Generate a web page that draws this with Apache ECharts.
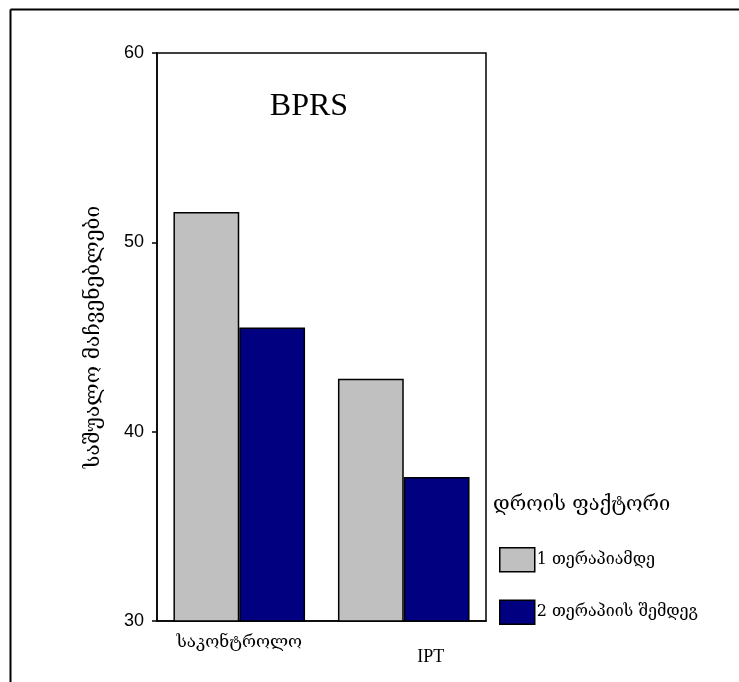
<!DOCTYPE html>
<html>
<head>
<meta charset="utf-8">
<script src="https://cdn.jsdelivr.net/npm/echarts@6/dist/echarts.min.js"></script>
<style>html,body{margin:0;padding:0;background:#fff}#c{width:739px;height:682px}</style>
</head>
<body>
<div id="c"></div>
<script>
var categories = ['საკონტროლო', 'IPT'];
var seriesNames = ['1 თერაპიამდე', '2 თერაპიის შემდეგ'];
var beforeValues = [51.6, 42.8];
var afterValues = [45.5, 37.6];
var yTicks = [30, 40, 50, 60];

var geoFont = '"DejaVu Serif", "DejaVu Sans", serif';
var chart = echarts.init(document.getElementById('c'));
chart.setOption({
  animation: false,
  backgroundColor: '#fff',
  title: [
    {text: 'BPRS', left: 304, top: 86, textAlign: 'center',
     textStyle: {fontFamily: '"Liberation Serif", serif', fontSize: 32, fontWeight: 'normal', color: '#000'}},
    {text: 'დროის ფაქტორი', left: 488, top: 490,
     textStyle: {fontFamily: geoFont, fontSize: 20, fontWeight: 'normal', color: '#000'}}
  ],
  legend: {
    orient: 'vertical', left: 494, top: 542,
    itemWidth: 35, itemHeight: 24, itemGap: 27, icon: 'rect',
    data: seriesNames,
    textStyle: {fontFamily: geoFont, fontSize: 16, color: '#000', padding: [0,0,0,-3]},
    itemStyle: {borderColor: '#000', borderWidth: 1.5}
  },
  grid: {left: 157, right: 253, top: 53, bottom: 61, show: true, borderColor: '#000', borderWidth: 1.5, backgroundColor: 'transparent'},
  xAxis: {
    type: 'category',
    data: [
      {value: categories[0]},
      {value: categories[1], textStyle: {fontFamily: '"Liberation Serif", serif', fontSize: 18, padding: [14, 0, 0, 54]}}
    ],
    axisLine: {lineStyle: {color: '#000', width: 1.5}},
    axisTick: {alignWithLabel: true, length: 6, lineStyle: {color: '#000', width: 1.5}},
    axisLabel: {color: '#000', fontFamily: geoFont, fontSize: 17, margin: 13}
  },
  yAxis: {
    type: 'value', min: 30, max: 60, interval: 10,
    name: 'საშუალო მაჩვენებლები', nameLocation: 'middle', nameRotate: 90, nameGap: 53,
    nameTextStyle: {fontFamily: geoFont, fontSize: 21, color: '#000'},
    axisLine: {show: true, lineStyle: {color: '#000', width: 1.5}},
    axisTick: {show: true, length: 5, lineStyle: {color: '#000', width: 1.5}},
    splitLine: {show: false},
    axisLabel: {color: '#000', fontFamily: '"Liberation Sans", Arial, sans-serif', fontSize: 18, margin: 13,
      formatter: function (v) { return yTicks.indexOf(v) >= 0 ? String(v) : ''; }}
  },
  series: [
    {name: seriesNames[0], type: 'bar', data: beforeValues, barGap: '0%', barCategoryGap: '20%',
     itemStyle: {color: '#C0C0C0', borderColor: '#000', borderWidth: 1.5}},
    {name: seriesNames[1], type: 'bar', data: afterValues, barGap: '0%', barCategoryGap: '20%',
     itemStyle: {color: '#000080', borderColor: '#000', borderWidth: 1.5}}
  ],
  graphic: [
    {type: 'line', shape: {x1: 10.5, y1: 9.5, x2: 739, y2: 9.5}, style: {stroke: '#000', lineWidth: 2}},
    {type: 'line', shape: {x1: 10.5, y1: 9.5, x2: 10.5, y2: 682}, style: {stroke: '#000', lineWidth: 2}}
  ]
});
</script>
</body>
</html>
